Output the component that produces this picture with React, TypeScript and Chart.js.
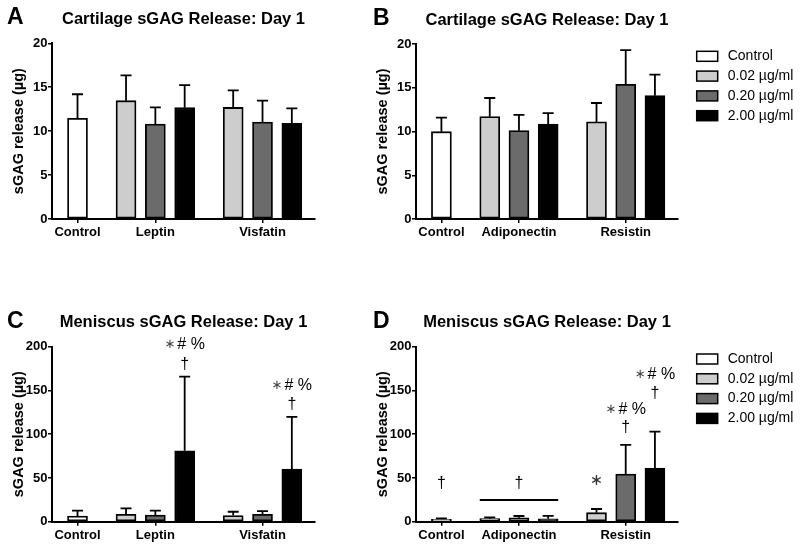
import React, { useEffect, useRef } from 'react';
import { Chart, registerables } from 'chart.js';

Chart.register(...registerables);

const FONT = "'Liberation Sans', Arial, Helvetica, sans-serif";
Chart.defaults.font.family = FONT;
Chart.defaults.color = '#000';

// ---------- data ----------
const doseLabels = ['Control', '0.02 µg/ml', '0.20 µg/ml', '2.00 µg/ml'];
const doseColors = ['#ffffff', '#cdcdcd', '#6b6b6b', '#000000'];

const groupsAC = ['Control', 'Leptin', 'Visfatin'];
const groupsBD = ['Control', 'Adiponectin', 'Resistin'];

const yTitle = 'sGAG release (µg)';

// Panel A – Cartilage, Leptin / Visfatin (means, then upper SD)
const aControl = [11.46];
const aLow = [13.47, 12.7];
const aMid = [10.8, 11.04];
const aHigh = [12.67, 10.9];
const aControlSD = [2.74];
const aLowSD = [2.89, 1.95];
const aMidSD = [1.9, 2.43];
const aHighSD = [2.58, 1.7];

// Panel B – Cartilage, Adiponectin / Resistin
const bControl = [9.98];
const bLow = [11.7, 11.1];
const bMid = [10.1, 15.4];
const bHigh = [10.86, 14.1];
const bControlSD = [1.6];
const bLowSD = [2.13, 2.16];
const bMidSD = [1.8, 3.9];
const bHighSD = [1.24, 2.4];

// Panel C – Meniscus, Leptin / Visfatin
const cControl = [6.5];
const cLow = [8.4, 7.0];
const cMid = [7.7, 8.4];
const cHigh = [81, 60.2];
const cControlSD = [6.1];
const cLowSD = [6.9, 4.4];
const cMidSD = [4.9, 3.8];
const cHighSD = [84.7, 59.5];

// Panel D – Meniscus, Adiponectin / Resistin
const dControl = [2.7];
const dLow = [3.5, 10.3];
const dMid = [4.5, 54.5];
const dHigh = [3.3, 61.4];
const dControlSD = [1.2];
const dLowSD = [1.5, 4.2];
const dMidSD = [2.0, 33.2];
const dHighSD = [3.4, 41.5];

// significance marks: [group, dose, kind, y value]
type Mark = [number, number, string, number];
const cMarks: Mark[] = [
  [1, 3, 'sig', 202], [1, 3, 'dagger', 180],
  [2, 3, 'sig', 155], [2, 3, 'dagger', 133.4],
];
const dMarks: Mark[] = [
  [0, 0, 'dagger', 43.9], [1, 2, 'dagger', 43.9], [2, 1, 'star', 46.9],
  [2, 2, 'sig', 128.5], [2, 2, 'dagger', 107.4],
  [2, 3, 'sig', 167.7], [2, 3, 'dagger', 146],
];
// bracket under a group: [group, y value]
const dBrackets: [number, number][] = [[1, 24.8]];

// ---------- layout helpers ----------
const GAP = 1.655; // space between groups, in bar slots
const X_MIN = -0.87;
const X_MAX = 8.1;
const BAR_W = 20;

function barPos(g: number, d: number) {
  return g === 0 ? 0 : GAP + (g - 1) * (2 + GAP) + (d - 1);
}

type PanelSpec = {
  x: number; y: number; w: number; h: number;
  area: { l: number; r: number; t: number; b: number };
  letter: string; title: string; groups: string[];
  yMax: number; yStep: number;
  control: number[]; low: number[]; mid: number[]; high: number[];
  controlSD: number[]; lowSD: number[]; midSD: number[]; highSD: number[];
  marks: Mark[]; brackets: [number, number][]; legend: boolean;
};

function buildConfig(p: PanelSpec): any {
  const means = [p.control, p.low, p.mid, p.high];
  const sds = [p.controlSD, p.lowSD, p.midSD, p.highSD];
  const datasets = means.map((vals, d) => ({
    label: doseLabels[d],
    data: vals.map((v, j) => ({ x: d === 0 ? barPos(0, 0) : barPos(j + 1, d), y: v })),
    backgroundColor: doseColors[d],
    borderColor: '#000',
    borderWidth: 1.8,
    borderSkipped: false,
    barThickness: BAR_W,
    grouped: false,
  }));
  const tickVals = [barPos(0, 0), barPos(1, 2), barPos(2, 2)];
  const padL = p.area.l - 45.7;
  const titleLH = 16.5 * 1.2;
  const titleCenter = p.area.t - 24;
  const tTop = titleCenter - titleLH / 2;
  const tBottom = p.area.t - tTop - titleLH;

  const extras = {
    id: 'extras',
    afterDatasetsDraw(chart: any) {
      const ctx = chart.ctx;
      const ys = chart.scales.y;
      ctx.save();
      ctx.strokeStyle = '#000';
      ctx.lineWidth = 1.8;
      chart.data.datasets.forEach((ds: any, i: number) => {
        const meta = chart.getDatasetMeta(i);
        meta.data.forEach((el: any, j: number) => {
          const m = means[i][j];
          const top = ys.getPixelForValue(m + sds[i][j]);
          const x = el.x;
          ctx.beginPath();
          ctx.moveTo(x, el.y);
          ctx.lineTo(x, top);
          ctx.moveTo(x - 5.5, top);
          ctx.lineTo(x + 5.5, top);
          ctx.stroke();
        });
      });
      ctx.restore();
    },
    afterDraw(chart: any) {
      const ctx = chart.ctx;
      const xs = chart.scales.x;
      const ys = chart.scales.y;
      const area = chart.chartArea;
      ctx.save();
      // panel letter
      ctx.fillStyle = '#000';
      ctx.font = `bold 23px ${FONT}`;
      ctx.textAlign = 'left';
      ctx.textBaseline = 'middle';
      ctx.fillText(p.letter, p.legend ? 43 : 7, area.top - 25.5);

      // marks
      p.marks.forEach(([g, d, kind, v]) => {
        const cx = xs.getPixelForValue(barPos(g, d));
        const cy = ys.getPixelForValue(v);
        ctx.textBaseline = 'middle';
        if (kind === 'dagger') {
          ctx.font = `16px ${FONT}`;
          ctx.textAlign = 'center';
          ctx.fillStyle = '#000';
          ctx.fillText('†', cx, cy);
        } else if (kind === 'star') {
          ctx.font = `16px 'DejaVu Sans', sans-serif`;
          ctx.textAlign = 'center';
          ctx.fillStyle = '#333';
          ctx.fillText('∗', cx, cy);
        } else {
          ctx.font = `13px 'DejaVu Sans', sans-serif`;
          const wStar = ctx.measureText('∗').width;
          ctx.font = `16px ${FONT}`;
          const rest = '# %';
          const wRest = ctx.measureText(rest).width;
          const total = wStar + 2 + wRest;
          const x0 = cx - total / 2;
          ctx.textAlign = 'left';
          ctx.font = `13px 'DejaVu Sans', sans-serif`;
          ctx.fillStyle = '#444';
          ctx.fillText('∗', x0, cy);
          ctx.font = `16px ${FONT}`;
          ctx.fillStyle = '#000';
          ctx.fillText(rest, x0 + wStar + 2, cy);
        }
      });

      // brackets
      ctx.strokeStyle = '#000';
      ctx.lineWidth = 1.8;
      p.brackets.forEach(([g, v]) => {
        const x1 = xs.getPixelForValue(barPos(g, 1)) - BAR_W / 2;
        const x2 = xs.getPixelForValue(barPos(g, 3)) + BAR_W / 2;
        const y = ys.getPixelForValue(v);
        ctx.beginPath();
        ctx.moveTo(x1, y);
        ctx.lineTo(x2, y);
        ctx.stroke();
      });

      // legend
      if (p.legend) {
        const bx = area.right + 18.7;
        chart.data.datasets.forEach((ds: any, i: number) => {
          const cy = area.top + 12.3 + i * 19.8;
          ctx.fillStyle = ds.backgroundColor;
          ctx.fillRect(bx, cy - 5, 21, 10);
          ctx.strokeStyle = '#000';
          ctx.lineWidth = 1.5;
          ctx.strokeRect(bx, cy - 5, 21, 10);
          ctx.fillStyle = '#000';
          ctx.font = `14px ${FONT}`;
          ctx.textAlign = 'left';
          ctx.textBaseline = 'middle';
          ctx.fillText(ds.label, bx + 31, cy);
        });
      }
      ctx.restore();
    },
  };

  return {
    type: 'bar',
    data: { datasets },
    options: {
      responsive: false,
      maintainAspectRatio: false,
      animation: false,
      events: [],
      layout: { padding: { left: padL, right: p.w - p.area.r, top: 0, bottom: 0 } },
      plugins: {
        legend: { display: false },
        tooltip: { enabled: false },
        title: {
          display: true,
          text: p.title,
          fullSize: false,
          color: '#000',
          font: { family: FONT, size: 16.5, weight: 'bold', lineHeight: 1.2 },
          padding: { top: tTop, bottom: tBottom },
        },
      },
      scales: {
        x: {
          type: 'linear',
          min: X_MIN,
          max: X_MAX,
          offset: false,
          grid: {
            display: true, drawOnChartArea: false, drawTicks: true,
            tickLength: 4, color: '#000', lineWidth: 1.5, offset: false,
          },
          border: { display: true, color: '#000', width: 2 },
          afterBuildTicks: (axis: any) => {
            axis.ticks = tickVals.map((v) => ({ value: v }));
          },
          ticks: {
            autoSkip: false,
            maxRotation: 0,
            padding: 1.5,
            color: '#000',
            font: { family: FONT, size: 13, weight: 'bold' },
            callback: (_v: any, i: number) => p.groups[i],
          },
          afterFit: (s: any) => { s.height = p.h - p.area.b; },
        },
        y: {
          min: 0,
          max: p.yMax,
          grid: {
            display: true, drawOnChartArea: false, drawTicks: true,
            tickLength: 4, color: '#000', lineWidth: 1.5,
          },
          border: { display: true, color: '#000', width: 2 },
          ticks: {
            stepSize: p.yStep,
            padding: 0.5,
            color: '#000',
            font: { family: FONT, size: 13, weight: 'bold' },
          },
          title: {
            display: true,
            text: yTitle,
            color: '#000',
            font: { family: FONT, size: 14.5, weight: 'bold', lineHeight: 1.2 },
            padding: { top: 4, bottom: 0 },
          },
          afterFit: (s: any) => { s.width = 45.7; },
        },
      },
    },
    plugins: [extras],
  };
}

function Panel(p: PanelSpec) {
  const ref = useRef<HTMLCanvasElement>(null);
  useEffect(() => {
    const chart = new Chart(ref.current as HTMLCanvasElement, buildConfig(p));
    return () => chart.destroy();
  }, []);
  return (
    <canvas
      ref={ref}
      width={p.w}
      height={p.h}
      style={{ position: 'absolute', left: p.x, top: p.y, width: p.w, height: p.h }}
    />
  );
}

export default function App() {
  return (
    <div style={{ position: 'absolute', left: 0, top: 0, width: 800, height: 551, background: '#fff', overflow: 'hidden' }}>
      <Panel
        x={0} y={0} w={330} h={250}
        area={{ l: 52, r: 315, t: 43.3, b: 219 }}
        letter="A" title="Cartilage sGAG Release: Day 1" groups={groupsAC}
        yMax={20} yStep={5}
        control={aControl} low={aLow} mid={aMid} high={aHigh}
        controlSD={aControlSD} lowSD={aLowSD} midSD={aMidSD} highSD={aHighSD}
        marks={[]} brackets={[]} legend={false}
      />
      <Panel
        x={330} y={0} w={470} h={250}
        area={{ l: 86, r: 348, t: 44, b: 219 }}
        letter="B" title="Cartilage sGAG Release: Day 1" groups={groupsBD}
        yMax={20} yStep={5}
        control={bControl} low={bLow} mid={bMid} high={bHigh}
        controlSD={bControlSD} lowSD={bLowSD} midSD={bMidSD} highSD={bHighSD}
        marks={[]} brackets={[]} legend={true}
      />
      <Panel
        x={0} y={270} w={330} h={281}
        area={{ l: 52, r: 315, t: 76.7, b: 251.7 }}
        letter="C" title="Meniscus sGAG Release: Day 1" groups={groupsAC}
        yMax={200} yStep={50}
        control={cControl} low={cLow} mid={cMid} high={cHigh}
        controlSD={cControlSD} lowSD={cLowSD} midSD={cMidSD} highSD={cHighSD}
        marks={cMarks} brackets={[]} legend={false}
      />
      <Panel
        x={330} y={270} w={470} h={281}
        area={{ l: 86, r: 348, t: 76.7, b: 251.7 }}
        letter="D" title="Meniscus sGAG Release: Day 1" groups={groupsBD}
        yMax={200} yStep={50}
        control={dControl} low={dLow} mid={dMid} high={dHigh}
        controlSD={dControlSD} lowSD={dLowSD} midSD={dMidSD} highSD={dHighSD}
        marks={dMarks} brackets={dBrackets} legend={true}
      />
    </div>
  );
}
